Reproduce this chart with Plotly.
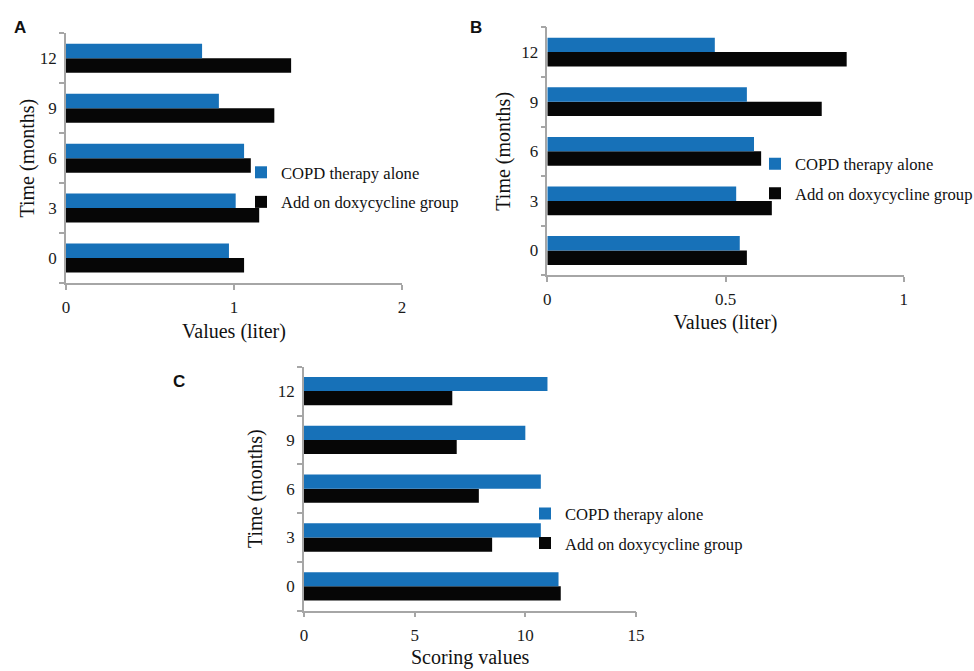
import plotly.graph_objects as go

months = ["0", "3", "6", "9", "12"]
series_names = ["COPD therapy alone", "Add on doxycycline group"]
colors = ["#1771B8", "#060606"]

a_copd = [0.97, 1.01, 1.06, 0.91, 0.81]
a_doxy = [1.06, 1.15, 1.10, 1.24, 1.34]
b_copd = [0.54, 0.53, 0.58, 0.56, 0.47]
b_doxy = [0.56, 0.63, 0.60, 0.77, 0.84]
c_copd = [11.5, 10.7, 10.7, 10.0, 11.0]
c_doxy = [11.6, 8.5, 7.9, 6.9, 6.7]

panel_letters = ["A", "B", "C"]
x_titles = ["Values (liter)", "Values (liter)", "Scoring values"]
y_title = "Time (months)"

SERIF = "Liberation Serif, Times New Roman, serif"
AX = "#A6A6A6"

fig = go.Figure()

panels = [
    ("x", "y", "legend", a_copd, a_doxy),
    ("x2", "y2", "legend2", b_copd, b_doxy),
    ("x3", "y3", "legend3", c_copd, c_doxy),
]
for xa, ya, lg, copd, doxy in panels:
    # black first so that blue sits on top within each group
    fig.add_trace(go.Bar(y=months, x=doxy, orientation="h", name=series_names[1],
                         marker=dict(color=colors[1], line=dict(width=0)),
                         xaxis=xa, yaxis=ya, legend=lg, legendrank=2,
                         legendgroup=lg + "d"))
    fig.add_trace(go.Bar(y=months, x=copd, orientation="h", name=series_names[0],
                         marker=dict(color=colors[0], line=dict(width=0)),
                         xaxis=xa, yaxis=ya, legend=lg, legendrank=1,
                         legendgroup=lg + "c"))

W, H = 974, 671

def xd(a, b):
    return [a / W, b / W]

def yd(top, bottom):
    return [1 - bottom / H, 1 - top / H]

tickfont = dict(family=SERIF, size=17, color="#1a1a1a")
titlefont = dict(family=SERIF, size=20, color="#111111")

def xaxis(dom, anchor, rng, dtick, title, standoff):
    return dict(domain=dom, anchor=anchor, range=rng, dtick=dtick, tick0=0,
                showgrid=False, zeroline=False, showline=True, linecolor=AX,
                linewidth=1.5, ticks="outside", ticklen=5, tickcolor=AX,
                tickwidth=1.5, tickfont=tickfont, fixedrange=True,
                ticklabelstandoff=3,
                title=dict(text=title, font=titlefont, standoff=standoff))

def yaxis(dom, anchor, standoff):
    return dict(domain=dom, anchor=anchor, type="category",
                categoryorder="array", categoryarray=months,
                showgrid=False, zeroline=False, showline=True, linecolor=AX,
                linewidth=1.5, ticks="outside", ticklen=5, tickcolor=AX,
                tickwidth=1.5, tickson="boundaries", tickfont=tickfont,
                fixedrange=True, ticklabelstandoff=4,
                title=dict(text=y_title, font=titlefont, standoff=standoff))

legfont = dict(family=SERIF, size=16.6, color="#111111")

def legend(xpx, ypx):
    return dict(x=(xpx - 42) / W, y=1 - ypx / H, xanchor="left", yanchor="middle",
                font=legfont, bgcolor="rgba(0,0,0,0)", borderwidth=0,
                tracegroupgap=5, itemclick=False, itemdoubleclick=False)

fig.update_layout(
    width=W, height=H,
    margin=dict(l=0, r=0, t=0, b=0, autoexpand=False),
    paper_bgcolor="white", plot_bgcolor="white",
    barmode="group", bargap=0.42, bargroupgap=0,
    showlegend=True,
    xaxis=xaxis(xd(66, 402), "y", [0, 2], 1, x_titles[0], 8),
    yaxis=yaxis(yd(33.3, 283), "x", 0),
    xaxis2=xaxis(xd(547.3, 903.7), "y2", [0, 1], 0.5, x_titles[1], 7),
    yaxis2=yaxis(yd(27.3, 275.3), "x2", 5),
    xaxis3=xaxis(xd(304, 636), "y3", [0, 15], 5, "", 0),
    yaxis3=yaxis(yd(366.7, 610.7), "x3", 10),
    legend=legend(283, 187.5),
    legend2=legend(797, 179),
    legend3=legend(567, 528.7),
    font=dict(family=SERIF),
)

# x-axis title of panel C (placed as annotation so it can sit near the page edge)
fig.add_annotation(text=x_titles[2], x=0.5, xref="x3 domain", y=1 - 657.5 / H,
                   yref="paper", showarrow=False, xanchor="center",
                   yanchor="middle", font=titlefont)

letter_pos = [(20.3, 27.5), (476, 27), (179, 381)]
for txt, (px, py) in zip(panel_letters, letter_pos):
    fig.add_annotation(text="<b>" + txt + "</b>", x=px / W, y=1 - py / H,
                       xref="paper", yref="paper", showarrow=False,
                       xanchor="center", yanchor="middle",
                       font=dict(family="Liberation Sans, Arial, sans-serif",
                                 size=17, color="#111111"))

fig.write_html("out.html", config={"displayModeBar": False},
               post_script="document.body.style.margin='0';document.body.style.padding='0';")
